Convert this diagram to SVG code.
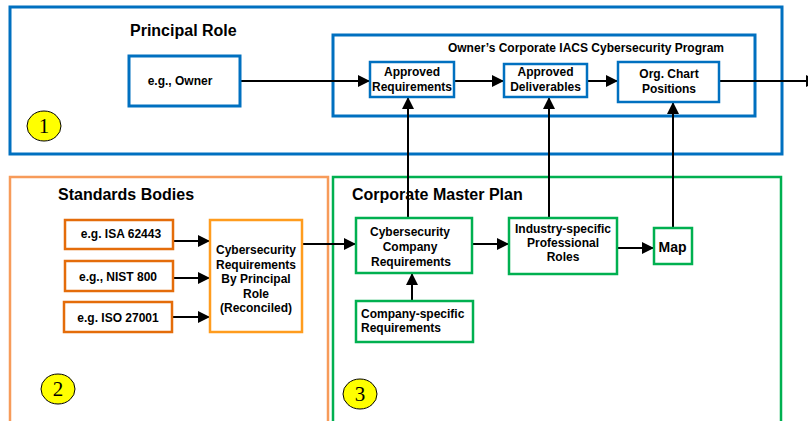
<svg xmlns="http://www.w3.org/2000/svg" width="808" height="421" viewBox="0 0 808 421">
<style>
text{font-family:"Liberation Sans",Arial,sans-serif;font-weight:bold;fill:#000}
.t16{font-size:16px}
.t12{font-size:12px;text-anchor:middle}
.l12{font-size:12px}
.num{font-family:"Liberation Serif","Times New Roman",serif;font-weight:normal;font-size:21px;text-anchor:middle}
.blue{fill:#fff;stroke:#0070C0;stroke-width:3}
.bluei{fill:#fff;stroke:#0070C0;stroke-width:2.5}
.ora{fill:none;stroke:#F79B5A;stroke-width:2.5}
.orad{fill:#fff;stroke:#E46C0A;stroke-width:2.5}
.orab{fill:#fff;stroke:#FF9C1E;stroke-width:2.5}
.grn{fill:none;stroke:#00B050;stroke-width:2.5}
.grni{fill:#fff;stroke:#00B050;stroke-width:2.5}
.badge{fill:#FFFF00;stroke:#000;stroke-width:1}
.c{fill:none;stroke:#000;stroke-width:2;marker-end:url(#ah)}
</style>
<defs>
<marker id="ah" markerUnits="userSpaceOnUse" markerWidth="12" markerHeight="12" refX="12" refY="6" orient="auto">
<path d="M0,0 L12,6 L0,12 z" fill="#000"/>
</marker>
</defs>
<rect width="808" height="421" fill="#fff"/>

<g id="principal-role">
<rect class="blue" x="10" y="7" width="772" height="147"/>
<text class="t16" x="130" y="36">Principal Role</text>
<ellipse class="badge" cx="44" cy="126" rx="17" ry="15"/>
<text class="num" x="44" y="133">1</text>
</g>

<g id="program">
<rect class="blue" x="333" y="35" width="422" height="81" stroke-width="2.5"/>
<text class="t12" x="586" y="52">Owner’s Corporate IACS Cybersecurity Program</text>
</g>

<g id="standards-bodies">
<rect class="ora" x="10" y="177" width="318" height="260"/>
<text class="t16" x="58" y="200">Standards Bodies</text>
<ellipse class="badge" cx="58" cy="389" rx="17" ry="15"/>
<text class="num" x="58" y="396">2</text>
</g>

<g id="master-plan">
<rect class="grn" x="333" y="177" width="448" height="260"/>
<text class="t16" x="352" y="200">Corporate Master Plan</text>
<ellipse class="badge" cx="360" cy="394" rx="17" ry="15"/>
<text class="num" x="360" y="401">3</text>
</g>

<g id="connectors">
<line class="c" x1="240" y1="81" x2="370" y2="81"/>
<line class="c" x1="454" y1="81" x2="504" y2="81"/>
<line class="c" x1="587" y1="81" x2="618" y2="81"/>
<line class="c" x1="719" y1="81" x2="818" y2="81"/>
<line class="c" x1="408" y1="218" x2="408" y2="97"/>
<line class="c" x1="549" y1="218" x2="549" y2="97"/>
<line class="c" x1="673" y1="228" x2="673" y2="102"/>
<line class="c" x1="173" y1="241" x2="210" y2="241"/>
<line class="c" x1="173" y1="278" x2="210" y2="278"/>
<line class="c" x1="172" y1="317" x2="210" y2="317"/>
<line class="c" x1="302" y1="244" x2="356" y2="244"/>
<line class="c" x1="472" y1="244" x2="509" y2="244"/>
<line class="c" x1="617" y1="248" x2="654" y2="248"/>
<line class="c" x1="412" y1="301" x2="412" y2="273"/>
</g>

<g id="owner">
<rect class="blue" x="129" y="56" width="111" height="50"/>
<text class="t12" x="180" y="85">e.g., Owner</text>
</g>

<g id="approved-requirements">
<rect class="bluei" x="370" y="62" width="84" height="35"/>
<text class="t12" x="412" y="76">Approved</text>
<text class="t12" x="412" y="91">Requirements</text>
</g>

<g id="approved-deliverables">
<rect class="bluei" x="504" y="64" width="83" height="33"/>
<text class="t12" x="545.5" y="76">Approved</text>
<text class="t12" x="545.5" y="91">Deliverables</text>
</g>

<g id="org-chart">
<rect class="bluei" x="618" y="62" width="101" height="40"/>
<text class="t12" x="669" y="78">Org. Chart</text>
<text class="t12" x="669" y="92.5">Positions</text>
</g>

<g id="isa">
<rect class="orad" x="65" y="220" width="108" height="29"/>
<text class="t12" x="121" y="238">e.g. ISA 62443</text>
</g>

<g id="nist">
<rect class="orad" x="65" y="261" width="108" height="30"/>
<text class="t12" x="118" y="281">e.g., NIST 800</text>
</g>

<g id="iso">
<rect class="orad" x="64" y="302" width="108" height="30"/>
<text class="t12" x="118" y="322">e.g. ISO 27001</text>
</g>

<g id="reconciled">
<rect class="orab" x="210" y="220" width="92" height="112"/>
<text class="t12" x="256" y="254">Cybersecurity</text>
<text class="t12" x="256" y="268.5">Requirements</text>
<text class="t12" x="256" y="283">By Principal</text>
<text class="t12" x="256" y="297.5">Role</text>
<text class="t12" x="256" y="312">(Reconciled)</text>
</g>

<g id="company-requirements">
<rect class="grni" x="356" y="218" width="116" height="55"/>
<text class="t12" x="410" y="236">Cybersecurity</text>
<text class="t12" x="410" y="251">Company</text>
<text class="t12" x="411" y="266">Requirements</text>
</g>

<g id="industry-roles">
<rect class="grni" x="509" y="218" width="108" height="56"/>
<text class="t12" x="563" y="233">Industry-specific</text>
<text class="t12" x="563" y="247">Professional</text>
<text class="t12" x="563" y="261">Roles</text>
</g>

<g id="map">
<rect class="grni" x="654" y="228" width="38" height="36"/>
<text class="t12" x="672.5" y="252" style="font-size:14px">Map</text>
</g>

<g id="company-specific">
<rect class="grni" x="356" y="301" width="117" height="41"/>
<text class="l12" x="361" y="318">Company-specific</text>
<text class="l12" x="361" y="332">Requirements</text>
</g>
</svg>
